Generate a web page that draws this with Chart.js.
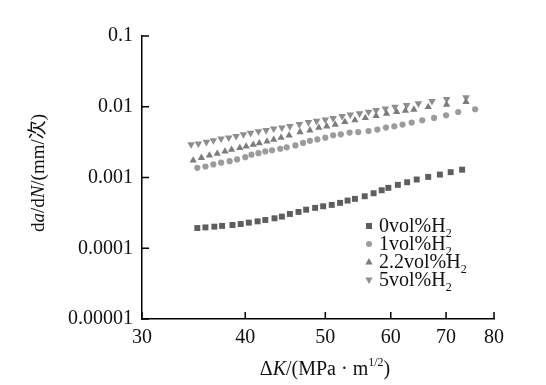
<!DOCTYPE html>
<html>
<head>
<meta charset="utf-8">
<script src="https://cdn.jsdelivr.net/npm/chart.js@4.4.0/dist/chart.umd.min.js"></script>
<style>
  html, body { margin: 0; padding: 0; background: #fff; }
</style>
</head>
<body>
<canvas id="chart" width="546" height="385"></canvas>
<script>
  // ΔK values (MPa·m^1/2) and crack growth rates da/dN (mm/cycle)
  const dk0 = [35.0, 35.8, 36.7, 37.5, 38.6, 39.5, 40.4, 41.4, 42.3, 43.4, 44.3, 45.3, 46.4, 47.4, 48.6, 49.7,
    50.9, 52.1, 53.2, 54.3, 55.8, 57.2, 58.5, 59.6, 61.2, 62.8, 64.5, 66.6, 68.8, 70.9, 73.2];
  const rate0 = [1.93e-4, 1.97e-4, 2.02e-4, 2.07e-4, 2.13e-4, 2.20e-4, 2.30e-4, 2.40e-4, 2.51e-4, 2.65e-4, 2.80e-4,
    3.05e-4, 3.26e-4, 3.51e-4, 3.72e-4, 3.92e-4, 4.10e-4, 4.38e-4, 4.72e-4, 4.99e-4, 5.43e-4, 5.99e-4, 6.60e-4,
    7.14e-4, 7.87e-4, 8.57e-4, 9.37e-4, 1.02e-3, 1.10e-3, 1.19e-3, 1.29e-3];

  const dk1 = [35.0, 35.8, 36.6, 37.4, 38.3, 39.1, 40.0, 40.7, 41.5, 42.3, 43.1, 44.1, 44.9, 46.0, 47.0, 47.9,
    48.9, 50.0, 51.1, 52.2, 53.5, 54.8, 56.4, 57.8, 59.2, 60.6, 62.0, 63.6, 65.5, 67.7, 70.0, 72.4, 75.9];
  const rate1 = [1.37e-3, 1.43e-3, 1.53e-3, 1.62e-3, 1.70e-3, 1.80e-3, 1.94e-3, 2.10e-3, 2.21e-3, 2.34e-3, 2.42e-3,
    2.55e-3, 2.67e-3, 2.84e-3, 3.08e-3, 3.30e-3, 3.45e-3, 3.66e-3, 3.94e-3, 4.07e-3, 4.31e-3, 4.39e-3, 4.54e-3,
    4.75e-3, 5.07e-3, 5.29e-3, 5.60e-3, 5.97e-3, 6.44e-3, 6.94e-3, 7.57e-3, 8.43e-3, 9.22e-3];

  const dk22 = [34.6, 35.4, 36.2, 37.0, 37.8, 38.5, 39.4, 40.1, 40.9, 41.6, 42.5, 43.3, 44.2, 45.2, 46.6, 47.9,
    49.1, 50.2, 51.4, 52.8, 54.3, 55.9, 57.6, 59.3, 61.0, 62.5, 64.0, 66.6, 70.1, 74.0];
  const rate22 = [1.74e-3, 1.90e-3, 2.05e-3, 2.17e-3, 2.34e-3, 2.47e-3, 2.61e-3, 2.75e-3, 2.91e-3, 3.06e-3, 3.24e-3,
    3.43e-3, 3.66e-3, 3.94e-3, 4.39e-3, 4.65e-3, 5.07e-3, 5.29e-3, 5.60e-3, 6.09e-3, 6.44e-3, 6.94e-3, 7.41e-3,
    8.02e-3, 8.44e-3, 8.80e-3, 9.13e-3, 9.94e-3, 1.075e-2, 1.17e-2];

  const dk5 = [34.4, 35.1, 35.9, 36.6, 37.4, 38.2, 39.0, 39.8, 40.6, 41.5, 42.4, 43.3, 44.3, 45.3, 46.5, 47.7,
    48.8, 50.0, 51.1, 52.4, 53.6, 55.0, 56.4, 57.6, 59.1, 60.7, 62.7, 64.8, 67.3, 70.1, 74.0];
  const rate5 = [2.94e-3, 3.01e-3, 3.17e-3, 3.35e-3, 3.54e-3, 3.66e-3, 3.85e-3, 4.07e-3, 4.25e-3, 4.49e-3, 4.65e-3,
    4.91e-3, 5.07e-3, 5.29e-3, 5.65e-3, 6.03e-3, 6.29e-3, 6.58e-3, 6.87e-3, 7.33e-3, 7.75e-3, 8.01e-3, 8.44e-3,
    8.91e-3, 9.42e-3, 9.94e-3, 1.05e-2, 1.11e-2, 1.20e-2, 1.28e-2, 1.35e-2];

  const seriesNames = ['0vol%H', '1vol%H', '2.2vol%H', '5vol%H'];
  const xTicks = [30, 40, 50, 60, 70, 80];
  const yTicks = [0.00001, 0.0001, 0.001, 0.01, 0.1];
  const yTickLabels = ['0.00001', '0.0001', '0.001', '0.01', '0.1'];

  const SERIF = '"Liberation Serif", "Times New Roman", serif';
  const CJK = '"Liberation Serif", "Noto Sans CJK SC", serif';

  function toPoints(xs, ys) {
    return xs.map((x, i) => ({ x: x, y: ys[i] }));
  }

  // draw a run of text pieces (italic / superscript / subscript) one after the other
  function drawRich(ctx, parts, x, y, size, align) {
    const fontFor = p => (p.italic ? 'italic ' : '') + Math.round(size * (p.small ? 0.6 : 1)) + 'px ' + CJK;
    let total = 0;
    parts.forEach(p => { ctx.font = fontFor(p); total += ctx.measureText(p.t).width; });
    let cx = align === 'center' ? x - total / 2 : x;
    ctx.textBaseline = 'alphabetic';
    ctx.textAlign = 'left';
    parts.forEach(p => {
      ctx.font = fontFor(p);
      let dy = 0;
      if (p.sup) dy = -size * 0.45;
      if (p.sub) dy = size * 0.25;
      ctx.fillText(p.t, cx, y + dy);
      cx += ctx.measureText(p.t).width;
    });
  }

  function drawMarker(ctx, style, color, x, y) {
    ctx.fillStyle = color;
    ctx.beginPath();
    if (style === 'rect') {
      ctx.rect(x - 3, y - 3, 6, 6);
    } else if (style === 'circle') {
      ctx.arc(x, y, 3, 0, Math.PI * 2);
    } else if (style === 'up') {
      ctx.moveTo(x, y - 4); ctx.lineTo(x + 3.6, y + 2.5); ctx.lineTo(x - 3.6, y + 2.5);
    } else {
      ctx.moveTo(x, y + 4); ctx.lineTo(x + 3.6, y - 2.5); ctx.lineTo(x - 3.6, y - 2.5);
    }
    ctx.closePath();
    ctx.fill();
  }

  const decorations = {
    id: 'decorations',
    afterDraw(chart) {
      const ctx = chart.ctx;
      const area = chart.chartArea;
      const xs = chart.scales.x;
      const ys = chart.scales.y;
      ctx.save();
      ctx.strokeStyle = '#000';
      ctx.lineWidth = 1.5;
      // inward tick marks
      xTicks.forEach(v => {
        const px = xs.getPixelForValue(v);
        ctx.beginPath(); ctx.moveTo(px, area.bottom); ctx.lineTo(px, area.bottom - 7); ctx.stroke();
      });
      yTicks.forEach(v => {
        const py = ys.getPixelForValue(v);
        ctx.beginPath(); ctx.moveTo(area.left, py); ctx.lineTo(area.left + 7, py); ctx.stroke();
      });

      ctx.fillStyle = '#111';
      // x axis title
      drawRich(ctx, [
        { t: 'Δ' }, { t: 'K', italic: true }, { t: '/(MPa · m' }, { t: '1/2', small: true, sup: true }, { t: ')' }
      ], 325, 375, 20, 'center');

      // y axis title, rotated
      ctx.save();
      ctx.translate(44, 173);
      ctx.rotate(-Math.PI / 2);
      drawRich(ctx, [
        { t: 'd' }, { t: 'a', italic: true }, { t: '/d' }, { t: 'N', italic: true }, { t: '/(mm/次)' }
      ], 0, 0, 19, 'center');
      ctx.restore();

      // legend
      const styles = ['rect', 'circle', 'up', 'down'];
      chart.data.datasets.forEach((ds, i) => {
        const ly = 226 + i * 18;
        drawMarker(ctx, styles[i], ds.backgroundColor, 369, ly);
        ctx.fillStyle = '#111';
        drawRich(ctx, [{ t: seriesNames[i] }, { t: '2', small: true, sub: true }], 379, ly + 6, 20, 'left');
      });
      ctx.restore();
    }
  };

  const axisFont = { family: SERIF, size: 20 };

  new Chart(document.getElementById('chart').getContext('2d'), {
    type: 'scatter',
    data: {
      datasets: [
        { label: seriesNames[0], data: toPoints(dk0, rate0), pointStyle: 'rect', pointRadius: 4.2,
          backgroundColor: '#5e5e5e', borderColor: '#5e5e5e', borderWidth: 0 },
        { label: seriesNames[1], data: toPoints(dk1, rate1), pointStyle: 'circle', pointRadius: 3.1,
          backgroundColor: '#9c9c9c', borderColor: '#9c9c9c', borderWidth: 0 },
        { label: seriesNames[2], data: toPoints(dk22, rate22), pointStyle: 'triangle', pointRadius: 4.2,
          backgroundColor: '#7c7c7c', borderColor: '#7c7c7c', borderWidth: 0 },
        { label: seriesNames[3], data: toPoints(dk5, rate5), pointStyle: 'triangle', pointRadius: 4.4, rotation: 180,
          backgroundColor: '#8e8e8e', borderColor: '#8e8e8e', borderWidth: 0 }
      ]
    },
    options: {
      responsive: false,
      animation: false,
      layout: { padding: { top: 36, right: 52, left: 0, bottom: 0 } },
      plugins: { legend: { display: false }, tooltip: { enabled: false } },
      scales: {
        x: {
          type: 'logarithmic',
          min: 30,
          max: 80,
          afterBuildTicks: s => { s.ticks = xTicks.map(v => ({ value: v })); },
          afterFit: s => { s.height = 66; },
          ticks: { font: axisFont, color: '#111', padding: 7, autoSkip: false, maxRotation: 0,
            callback: v => String(v) },
          grid: { display: false, drawTicks: false },
          border: { display: true, color: '#000', width: 1.5 }
        },
        y: {
          type: 'logarithmic',
          min: 0.00001,
          max: 0.1,
          afterBuildTicks: s => { s.ticks = yTicks.map(v => ({ value: v })); },
          afterFit: s => { s.width = 142; },
          ticks: { font: axisFont, color: '#111', padding: 9, autoSkip: false,
            callback: v => yTickLabels[yTicks.findIndex(t => Math.abs(t - v) / t < 1e-6)] },
          grid: { display: false, drawTicks: false },
          border: { display: true, color: '#000', width: 1.5 }
        }
      }
    },
    plugins: [decorations]
  });
</script>
</body>
</html>
